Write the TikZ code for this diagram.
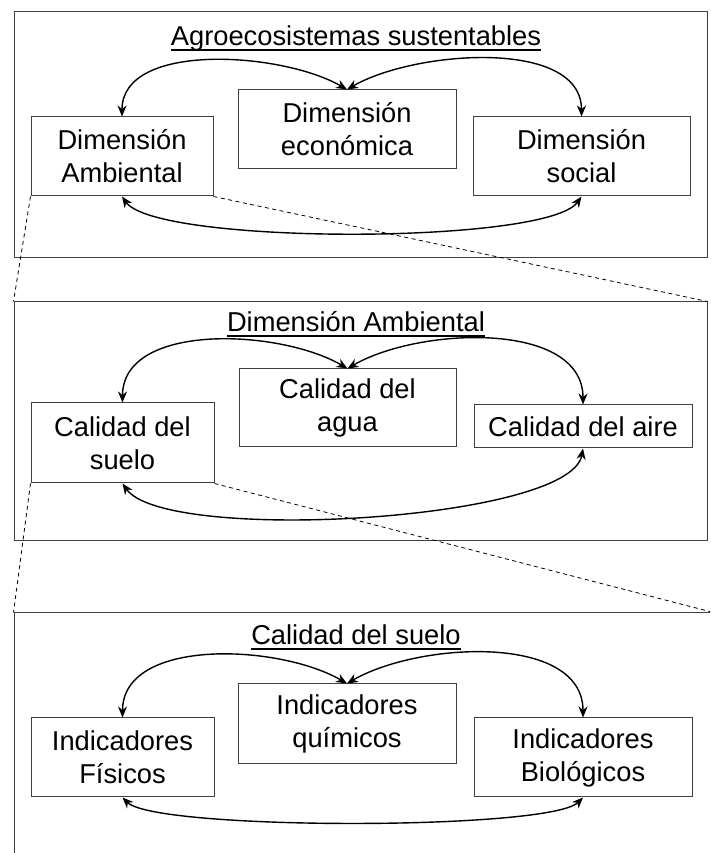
\documentclass[tikz,border=0pt]{standalone}
\usepackage{fontspec}
\setmainfont{Liberation Sans}
\usetikzlibrary{arrows.meta}

% underlined panel titles
\newcommand{\paneltitle}[1]{\setbox0\hbox{#1}\leavevmode\rlap{\raisebox{-5pt}{\rule{\wd0}{1.8pt}}}\box0}

\tikzset{
  panel/.style={draw=black!75, line width=1pt, inner sep=0pt},
  dimbox/.style={draw=black!75, line width=1pt, align=center, inner sep=0pt},
  link/.style={{Stealth[length=11pt,width=9pt]}-{Stealth[length=11pt,width=9pt]}, line width=1.4pt},
  zoomline/.style={line width=0.8pt, dash pattern=on 4pt off 3.5pt},
}

\begin{document}
\begin{tikzpicture}[x=1pt,y=1pt,font=\fontsize{27.3}{33}\selectfont]
  \path[use as bounding box] (0,0) rectangle (710,853);
  \clip (0,0) rectangle (710,853);

  % Agroecosistemas panel
  \node[panel, minimum width=693pt, minimum height=246pt] (p1) at (360.5,718) {};
  \node[anchor=base] (t1) at (356,807) {\paneltitle{Agroecosistemas sustentables}};
  \node[dimbox, minimum width=182pt, minimum height=79pt] (amb) at (122,696.5) {Dimensión\\Ambiental};
  \node[dimbox, minimum width=218pt, minimum height=79pt] (eco) at (347,723.5) {Dimensión\\económica};
  \node[dimbox, minimum width=217pt, minimum height=79pt] (soc) at (581.5,696.5) {Dimensión\\social};
  \draw[link] (amb.north) to[out=90,in=150,looseness=0.85] (eco.north);
  \draw[link] (eco.north) to[out=30,in=90,looseness=0.85] (soc.north);
  \draw[link] (amb.south) to[out=-55,in=-125,looseness=0.33] (soc.south);

  % Dimension Ambiental panel
  \node[panel, minimum width=693pt, minimum height=239pt] (p2) at (360.5,431.5) {};
  \node[anchor=base] (t2) at (356,521) {\paneltitle{Dimensión Ambiental}};
  \node[dimbox, minimum width=183pt, minimum height=80pt] (suelo) at (122.5,410) {Calidad del\\suelo};
  \node[dimbox, minimum width=217pt, minimum height=78pt] (agua) at (347.5,445) {Calidad del\\agua};
  \node[dimbox, minimum width=218pt, minimum height=43pt] (aire) at (583,426.5) {Calidad del aire};
  \draw[link] (suelo.north) to[out=90,in=150,looseness=0.9] (agua.north);
  \draw[link] (agua.north) to[out=30,in=90,looseness=0.9] (aire.north);
  \draw[link] (suelo.south) to[out=-55,in=-100,looseness=0.41] (aire.south);

  % Calidad del suelo panel
  \node[panel, minimum width=699pt, minimum height=260pt] (p3) at (363.5,110) {};
  \node[anchor=base] (t3) at (356,208) {\paneltitle{Calidad del suelo}};
  \node[dimbox, minimum width=183pt, minimum height=79pt] (fis) at (122.5,95.5) {Indicadores\\Físicos};
  \node[dimbox, minimum width=218pt, minimum height=80pt] (quim) at (347,129) {Indicadores\\químicos};
  \node[dimbox, minimum width=218pt, minimum height=79pt] (bio) at (583,95.5) {Indicadores\\Biológicos};
  \draw[link] (fis.north) to[out=90,in=150,looseness=0.9] (quim.north);
  \draw[link] (quim.north) to[out=30,in=90,looseness=0.9] (bio.north);
  \draw[link] (fis.south) to[out=-45,in=-135,looseness=0.26] (bio.south);

  % zoom lines
  \draw[zoomline] (amb.south west) -- (p2.north west);
  \draw[zoomline] (amb.south east) -- (p2.north east);
  \draw[zoomline] (suelo.south west) -- (p3.north west);
  \draw[zoomline] (suelo.south east) -- (p3.north east);
\end{tikzpicture}
\end{document}
